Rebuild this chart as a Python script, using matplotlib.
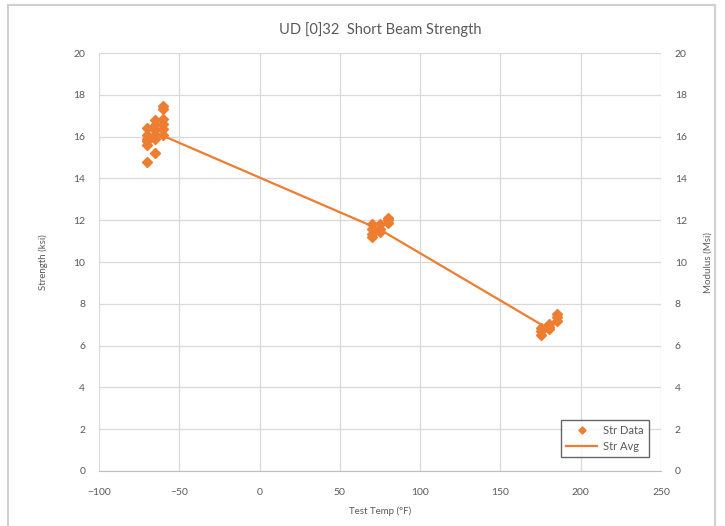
import numpy as np
import matplotlib.pyplot as plt
from matplotlib.patches import Rectangle

plt.rcParams['font.family'] = ['Lato', 'DejaVu Sans']

# Str Data: test temperature (F) and strength (ksi)
cold_temp = [-70, -70, -70, -70, -70, -70,
             -65, -65, -65, -65, -65, -65,
             -60, -60, -60, -60, -60, -60]
cold_str = [16.4, 16.1, 15.9, 15.8, 15.6, 14.8,
            16.8, 16.55, 16.3, 16.1, 15.9, 15.2,
            17.45, 17.3, 16.85, 16.6, 16.35, 16.1]

mid_temp = [70, 70, 70, 70, 75, 75, 75, 80, 80, 80]
mid_str = [11.8, 11.6, 11.35, 11.2, 11.8, 11.6, 11.45, 12.1, 12.0, 11.85]

hot_temp = [175, 175, 175, 180, 180, 180, 185, 185, 185]
hot_str = [6.85, 6.7, 6.5, 7.05, 6.9, 6.8, 7.5, 7.35, 7.2]

# Str Avg
avg_temp = [-65, 75, 180]
avg_str = [16.2, 11.55, 6.8]

x_ticks = np.arange(-100, 251, 50)
y_ticks = np.arange(0, 21, 2)

orange = '#ED7D31'
grid_c = '#D9D9D9'
text_c = '#595959'

fig = plt.figure(figsize=(7.25, 5.26), dpi=100)
ax = fig.add_axes([0.1366, 0.1046, 0.7751, 0.7946])

# outer chart frame
fig.patches.append(Rectangle((0.011, -0.02), 0.975, 1.01, transform=fig.transFigure,
                             fill=False, edgecolor='#D0D0D0', linewidth=1.5))

temps = cold_temp + mid_temp + hot_temp
strs = cold_str + mid_str + hot_str
ax.plot(avg_temp, avg_str, color=orange, linewidth=1.6, label='Str Avg', zorder=3)
ax.plot(temps, strs, linestyle='none', marker='D', markersize=4.8, color=orange,
        label='Str Data', zorder=4)

ax.set_xlim(-100, 250)
ax.set_ylim(0, 20)
ax.set_xticks(x_ticks)
ax.set_yticks(y_ticks)
ax.grid(True, color=grid_c, linewidth=0.9)
ax.set_axisbelow(True)
for s in ['top', 'left', 'right']:
    ax.spines[s].set_visible(False)
ax.spines['bottom'].set_color('#BFBFBF')
ax.tick_params(axis='both', colors=text_c, labelsize=7.5, length=0, pad=10)
ax.tick_params(axis='x', pad=12)

ax2 = ax.twinx()
ax2.set_ylim(0, 20)
ax2.set_yticks(y_ticks)
for s in ['top', 'left', 'right', 'bottom']:
    ax2.spines[s].set_visible(False)
ax2.tick_params(axis='y', colors=text_c, labelsize=7.5, length=0, pad=10)

ax.set_title('UD [0]32  Short Beam Strength', fontsize=10.5, color=text_c, pad=14)
ax.set_xlabel('Test Temp (°F)', fontsize=7, color=text_c, labelpad=7)
ax.set_ylabel('Strength (ksi)', fontsize=7, color=text_c, labelpad=18)
ax2.set_ylabel('Modulus (Msi)', fontsize=7, color=text_c, labelpad=12)

handles, labels = ax.get_legend_handles_labels()
leg = ax.legend(handles[::-1], labels[::-1], loc='lower right',
                bbox_to_anchor=(0.985, 0.025), fontsize=8, frameon=True,
                fancybox=False, edgecolor='#404040', labelcolor=text_c,
                handlelength=2.8, handletextpad=0.5, borderpad=0.5,
                labelspacing=0.4, borderaxespad=0.3, markerscale=0.75)
leg.get_frame().set_linewidth(1.0)

fig.savefig('out.png', dpi=100)
